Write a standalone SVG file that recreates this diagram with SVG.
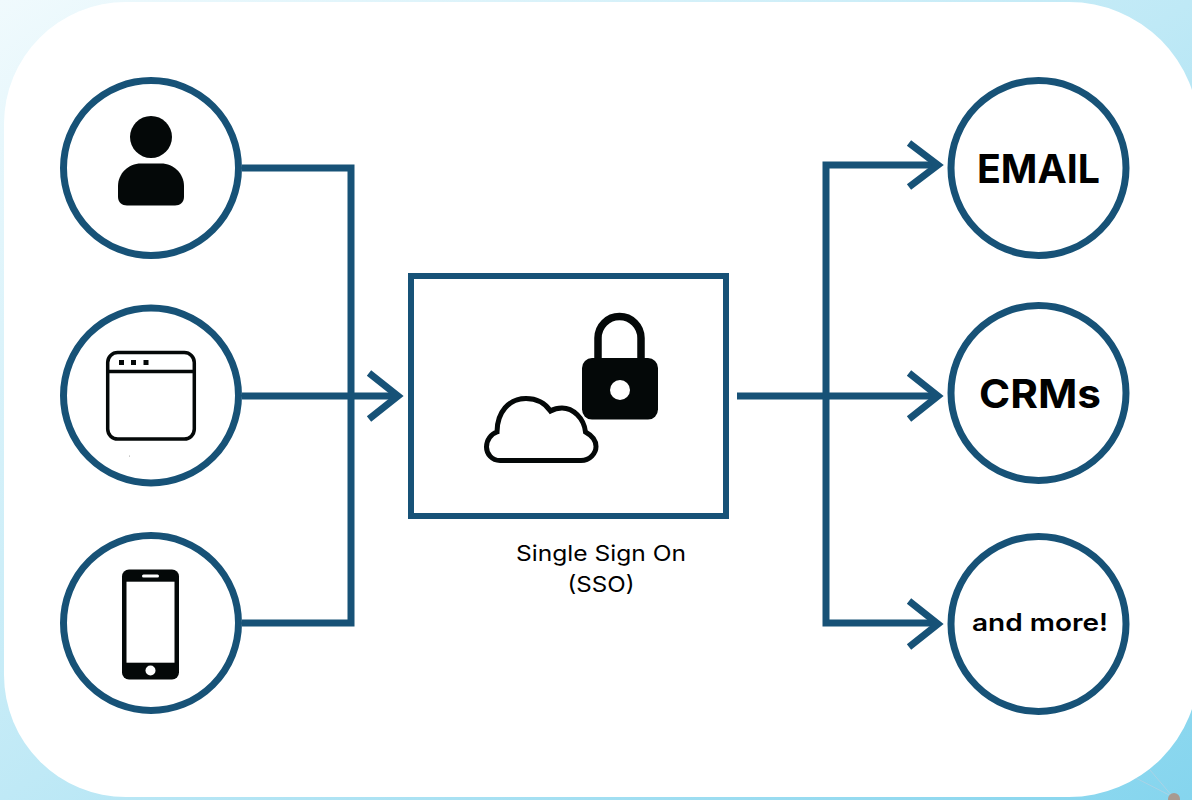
<svg xmlns="http://www.w3.org/2000/svg" width="1192" height="800" viewBox="0 0 1192 800">
<defs>
<linearGradient id="bg" x1="0" y1="0" x2="1" y2="1"><stop offset="0" stop-color="#f0fafd"/><stop offset="0.5" stop-color="#bfe9f6"/><stop offset="1" stop-color="#85d5ee"/></linearGradient>
<style>
.ring{fill:#fff;stroke:#175277;stroke-width:7}
.line{fill:none;stroke:#175277;stroke-width:7;stroke-linejoin:miter}
.ico{fill:#040808}
.lab{font-family:"Inter","Liberation Sans",sans-serif;fill:#000;text-anchor:middle}
</style>
</defs>
<rect id="background" width="1192" height="800" fill="url(#bg)"/>
<g id="background-detail"><path d="M1130 775L1173 797M1150 770L1173 797" stroke="#a9d3e6" stroke-width="1" fill="none"/><circle cx="1174" cy="799" r="6" fill="#a89a90"/></g>
<path id="panel" d="M126 2H1069A130 130 0 0 1 1199 132V667A130 130 0 0 1 1069 797H126A122 122 0 0 1 4 675V124A122 122 0 0 1 126 2Z" fill="#fff"/>
<g id="connectors">
<path class="line" d="M242 168H351V623H242"/>
<path class="line" d="M242 396H397"/>
<path class="line" d="M369 373L398 396L369 419"/>
<path class="line" d="M737 396H937"/>
<path class="line" d="M937 165H826V623H937"/>
<path class="line" d="M909 143L938 165L909 187"/>
<path class="line" d="M909 373L938 396L909 419"/>
<path class="line" d="M909 601L938 624L909 647"/>
</g>
<g id="node-user"><circle class="ring" cx="151" cy="168" r="87.5"/><circle class="ico" cx="151" cy="137" r="21"/><path class="ico" d="M141 163.500H161C174 163.500 184 174 184 186V197C184 202 180 205.500 175 205.500H127C122 205.500 118 202 118 197V186C118 174 128 163.500 141 163.500Z"/></g>
<g id="node-browser"><circle class="ring" cx="151" cy="395.500" r="87.500"/><rect x="107.700" y="352.500" width="86.600" height="86.600" rx="10" fill="none" stroke="#040808" stroke-width="3.500"/><path d="M107.700 371.500H194.300" stroke="#040808" stroke-width="3.500"/><rect class="ico" x="119" y="360" width="5" height="5"/><rect class="ico" x="131" y="360" width="5" height="5"/><rect class="ico" x="143.500" y="360" width="5" height="5"/><circle cx="129.500" cy="456" r="0.500" fill="#888"/></g>
<g id="node-phone"><circle class="ring" cx="151" cy="623" r="87.500"/><rect class="ico" x="122" y="569.500" width="57" height="110" rx="7"/><rect x="126.500" y="581.700" width="48" height="81" fill="#fff"/><rect x="142" y="574.500" width="17" height="3" rx="1.500" fill="#fff"/><circle cx="150.500" cy="670.500" r="5" fill="#fff"/></g>
<g id="node-sso">
<rect x="411" y="276" width="315" height="240" fill="#fff" stroke="#175277" stroke-width="6"/>
<path d="M598 358V338a21.500 21.500 0 0 1 43 0V358" fill="none" stroke="#040808" stroke-width="7.500"/>
<rect class="ico" x="582" y="358" width="76" height="61.600" rx="10"/><circle cx="620" cy="390" r="10" fill="#fff"/>
<path d="M500 460.500H581C590 460.500 596 453 596 446.500C596 440 591 435 585.500 432C584 418 573 408 562 408C558 408 554 409 550.500 411C545 403 536 398.500 526 398.500C509 398.500 497 412 497 432C491 434 486.500 440 486.500 447C486.500 454 492 460.500 500 460.500Z" fill="#fff" stroke="#040808" stroke-width="5"/>
<text class="lab" x="601" y="561" font-size="21.500" textLength="170" lengthAdjust="spacingAndGlyphs">Single Sign On</text>
<text class="lab" x="601" y="592" font-size="22" textLength="67" lengthAdjust="spacingAndGlyphs">(SSO)</text>
</g>
<g id="node-email"><circle class="ring" cx="1038.500" cy="168" r="87.500"/><text class="lab" x="1038.500" y="183" font-size="40" font-weight="700" textLength="123" lengthAdjust="spacingAndGlyphs">EMAIL</text></g>
<g id="node-crms"><circle class="ring" cx="1038.500" cy="393" r="87.500"/><text class="lab" x="1040" y="408" font-size="40" font-weight="700" textLength="122" lengthAdjust="spacingAndGlyphs">CRMs</text></g>
<g id="node-more"><circle class="ring" cx="1038.500" cy="624" r="87.500"/><text class="lab" x="1040" y="631" font-size="24" font-weight="600" textLength="136" lengthAdjust="spacingAndGlyphs">and more!</text></g>
</svg>
